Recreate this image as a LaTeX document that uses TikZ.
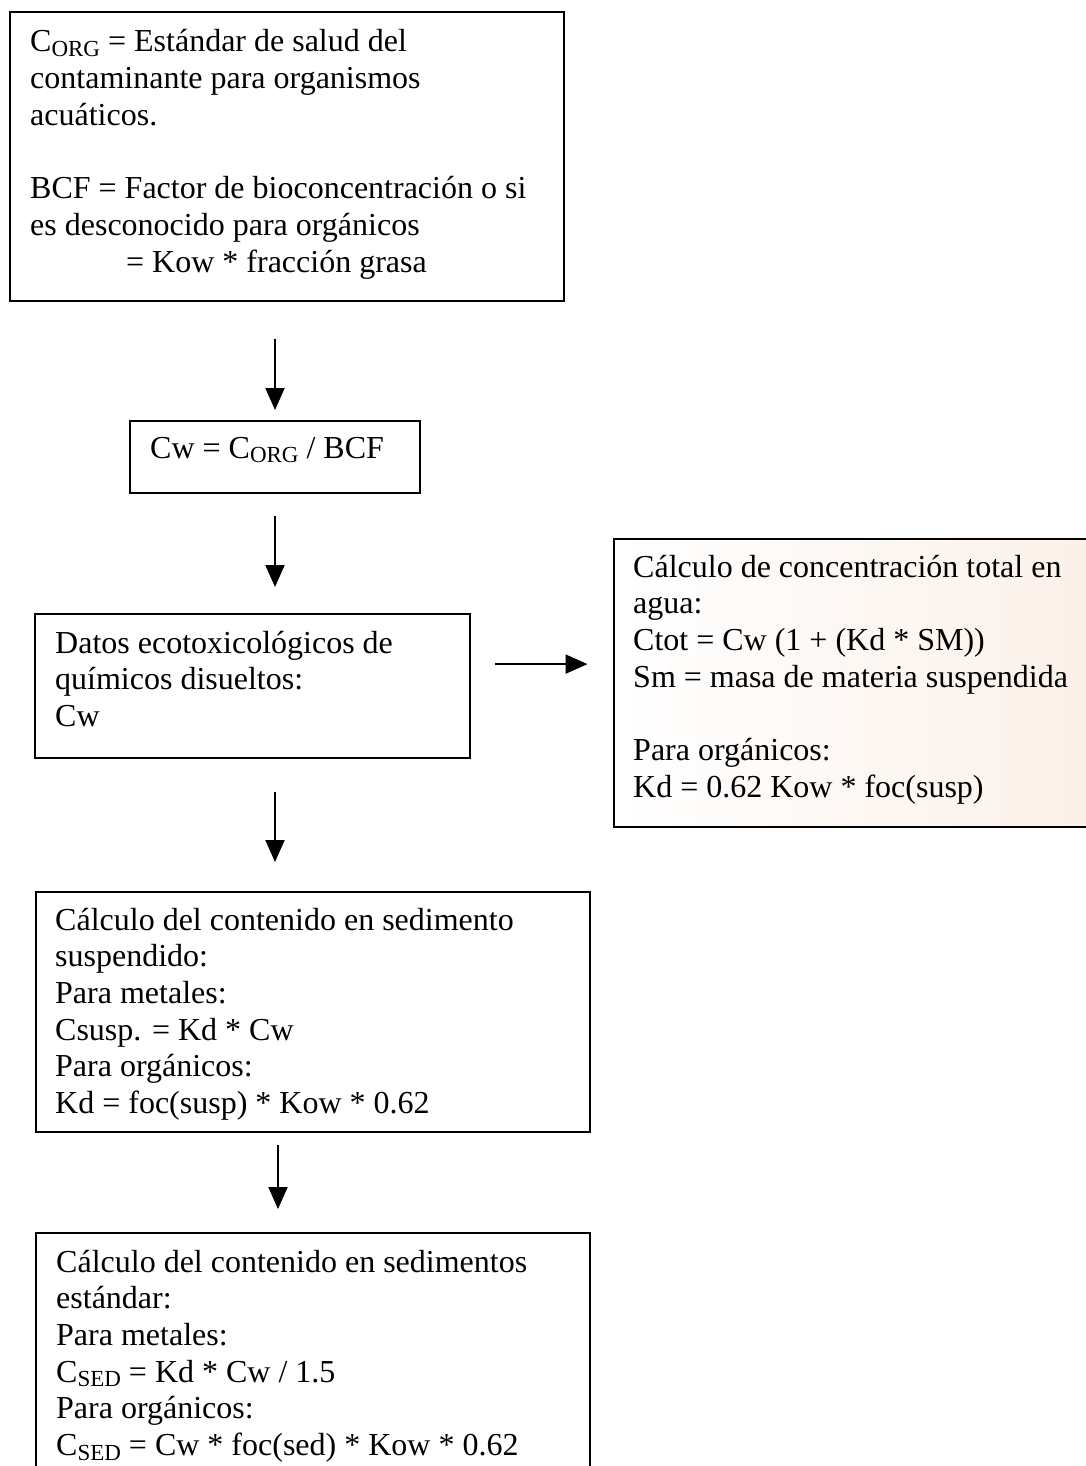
\documentclass[tikz,border=0pt]{standalone}
\usepackage{fontspec}
\setmainfont{Liberation Serif}
\usetikzlibrary{arrows.meta}
% lowered small-size index, as in C_ORG and C_SED
\newcommand{\lowsub}[1]{\raisebox{-4.5pt}{\fontsize{23}{23}\selectfont #1}}
\definecolor{paper}{RGB}{251,240,232}
\tikzset{
  box/.style={draw=black, line width=2.2pt, rectangle, inner sep=0pt, anchor=north west},
  txt/.style={anchor=base west, inner sep=0pt, font=\fontsize{32}{36.7}\selectfont},
  arr/.style={line width=2pt, -{Triangle[length=22pt,width=19pt]}},
}
\begin{document}
\begin{tikzpicture}[x=1pt,y=-1pt]
\useasboundingbox (0,0) rectangle (1086,1466);
\clip (0,0) rectangle (1086,1466);
\fill[white] (0,0) rectangle (1086,1466);

% boxes
\node[box, minimum width=554pt, minimum height=289pt] (b1) at (9,11) {};
\node[box, minimum width=290pt, minimum height=72pt]  (b2) at (129,420) {};
\node[box, minimum width=435pt, minimum height=144pt] (b3) at (34,613) {};
\node[box, minimum width=500pt, minimum height=288pt, left color=white, right color=paper] (b4) at (612.5,538) {};
\node[box, minimum width=554pt, minimum height=240pt] (b5) at (35,891) {};
\node[box, minimum width=554pt, minimum height=300pt] (b6) at (35,1232) {};

% texts
\node[txt] (t1) at (30,52) {\parbox[t]{600pt}{\raggedright
  C\lowsub{ORG} = Estándar de salud del\\
  contaminante para organismos\\
  acuáticos.\\[36.7pt]
  BCF = Factor de bioconcentración o si\\
  es desconocido para orgánicos\\
  \hspace*{96pt}= Kow * fracción grasa}};
\node[txt] (t2) at (150,458) {Cw = C\lowsub{ORG} / BCF};
\node[txt] (t3) at (55,653) {\parbox[t]{600pt}{\raggedright
  Datos ecotoxicológicos de\\
  químicos disueltos:\\
  Cw}};
\node[txt] (t4) at (633,577) {\parbox[t]{600pt}{\raggedright
  Cálculo de concentración total en\\
  agua:\\
  Ctot = Cw (1 + (Kd * SM))\\
  Sm = masa de materia suspendida\\[36.7pt]
  Para orgánicos:\\
  Kd = 0.62 Kow * foc(susp)}};
\node[txt] (t5) at (55,930) {\parbox[t]{600pt}{\raggedright
  Cálculo del contenido en sedimento\\
  suspendido:\\
  Para metales:\\
  Csusp. = Kd * Cw\\
  Para orgánicos:\\
  Kd = foc(susp) * Kow * 0.62}};
\node[txt] (t6) at (56,1272) {\parbox[t]{600pt}{\raggedright
  Cálculo del contenido en sedimentos\\
  estándar:\\
  Para metales:\\
  C\lowsub{SED} = Kd * Cw / 1.5\\
  Para orgánicos:\\
  C\lowsub{SED} = Cw * foc(sed) * Kow * 0.62}};

% flow arrows
\coordinate (ax) at (275,0);
\coordinate (ax2) at (278,0);
\draw[arr, shorten <=37pt, shorten >=10pt] (b1.south -| ax) -- (b2.north -| ax);
\draw[arr, shorten <=22pt, shorten >=26pt] (b2.south -| ax) -- (b3.north -| ax);
\draw[arr, shorten <=24pt, shorten >=25pt] ([yshift=22pt]b3.east) -- ([yshift=22pt]b3.east -| b4.west);
\draw[arr, shorten <=33pt, shorten >=29pt] (b3.south -| ax) -- (b5.north -| ax);
\draw[arr, shorten <=12pt, shorten >=23pt] (b5.south -| ax2) -- (b6.north -| ax2);
\end{tikzpicture}
\end{document}
